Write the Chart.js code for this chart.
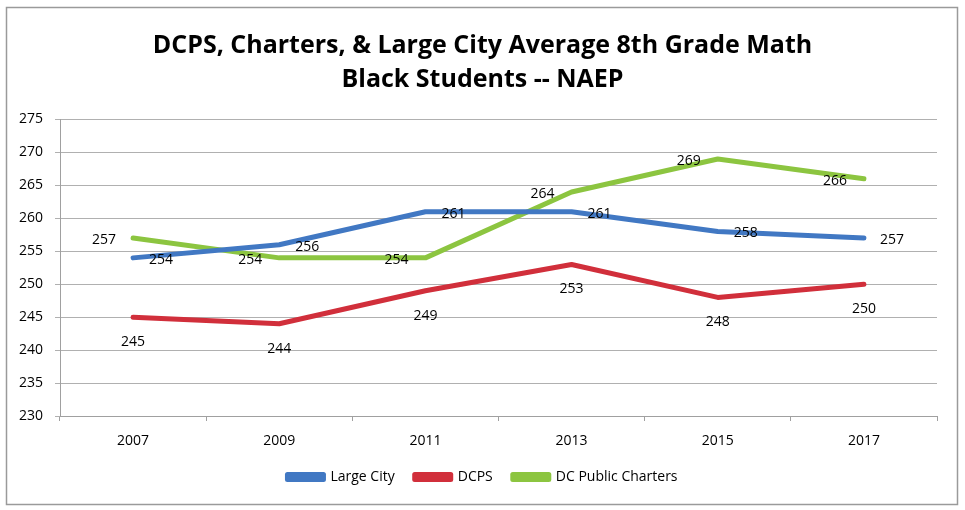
<!DOCTYPE html>
<html>
<head>
<meta charset="utf-8">
<script src="https://cdn.jsdelivr.net/npm/chart.js@4.4.0/dist/chart.umd.min.js"></script>
<style>
html,body{margin:0;padding:0;background:#fff;}
#wrap{width:965px;height:510px;position:relative;}
</style>
</head>
<body>
<div id="wrap"><canvas id="c" width="965" height="510"></canvas></div>
<script>
const years = ['2007','2009','2011','2013','2015','2017'];
const largeCity = [254, 256, 261, 261, 258, 257];
const dcps = [245, 244, 249, 253, 248, 250];
const dcCharters = [257, 254, 254, 264, 269, 266];
const yTicks = {min: 230, max: 275, step: 5};
const titleLines = ['DCPS, Charters, & Large City Average 8th Grade Math', 'Black Students -- NAEP'];

const FONT = "'Open Sans', 'Liberation Sans', sans-serif";

const frame = {
  id: 'frame',
  beforeDraw(chart) {
    const ctx = chart.ctx;
    ctx.save();
    ctx.fillStyle = '#fff';
    ctx.fillRect(0, 0, chart.width, chart.height);
    ctx.strokeStyle = '#9a9a9a';
    ctx.lineWidth = 1.5;
    ctx.strokeRect(6.5, 7.5, 951, 497);
    ctx.restore();
  }
};

const labels = {
  id: 'pointLabels',
  afterDatasetsDraw(chart) {
    const ctx = chart.ctx;
    ctx.save();
    ctx.font = '14px ' + FONT;
    ctx.fillStyle = '#000';
    ctx.textAlign = 'center';
    ctx.textBaseline = 'middle';
    chart.data.datasets.forEach((ds, i) => {
      const meta = chart.getDatasetMeta(i);
      meta.data.forEach((pt, j) => {
        let x = pt.x, y = pt.y;
        if (ds.labelPos === 'right') { x += 28; y += 2; }
        else if (ds.labelPos === 'left') { x -= 29; y += 2; }
        else if (ds.labelPos === 'below') { y += 25; }
        ctx.fillText(String(ds.data[j]), x, y);
      });
    });
    ctx.restore();
  }
};

new Chart(document.getElementById('c'), {
  type: 'line',
  data: {
    labels: years,
    datasets: [
      {label: 'Large City', data: largeCity, borderColor: '#4178c3', backgroundColor: '#4178c3', labelPos: 'right'},
      {label: 'DCPS', data: dcps, borderColor: '#d12f3b', backgroundColor: '#d12f3b', labelPos: 'below'},
      {label: 'DC Public Charters', data: dcCharters, borderColor: '#8cc540', backgroundColor: '#8cc540', labelPos: 'left'}
    ]
  },
  options: {
    responsive: false,
    animation: false,
    devicePixelRatio: 1,
    layout: {padding: {left: 18, right: 18, top: 0, bottom: 16}},
    elements: {
      line: {borderWidth: 5, tension: 0, borderCapStyle: 'round', borderJoinStyle: 'round'},
      point: {radius: 0, hoverRadius: 0}
    },
    plugins: {
      title: {
        display: true,
        text: titleLines,
        color: '#000',
        font: {family: FONT, size: 25, weight: 'bold', lineHeight: 1.36},
        padding: {top: 29, bottom: 22.5}
      },
      legend: {
        position: 'bottom',
        labels: {
          color: '#000',
          font: {family: FONT, size: 14},
          boxWidth: 36,
          boxHeight: 5,
          padding: 20
        }
      },
      tooltip: {enabled: false}
    },
    scales: {
      x: {
        offset: true,
        grid: {display: true, drawOnChartArea: false, offset: true, tickLength: 5, color: '#a0a0a0'},
        border: {display: true, color: '#a0a0a0', width: 1},
        ticks: {color: '#000', font: {family: FONT, size: 14}, padding: 12, maxRotation: 0},
        afterFit(s) { s.height = 34; }
      },
      y: {
        min: yTicks.min,
        max: yTicks.max,
        ticks: {stepSize: yTicks.step, color: '#000', font: {family: FONT, size: 14}, padding: 12},
        grid: {color: '#b0b0b0', tickLength: 5, lineWidth: 1},
        border: {display: true, color: '#a0a0a0', width: 1},
        afterFit(s) { s.width = 42; }
      },
      yRight: {
        position: 'right',
        min: yTicks.min,
        max: yTicks.max,
        ticks: {display: false},
        grid: {display: false, drawTicks: false},
        border: {display: false},
        afterFit(s) { s.width = 10; }
      }
    }
  },
  plugins: [frame, labels]
});
</script>
</body>
</html>
